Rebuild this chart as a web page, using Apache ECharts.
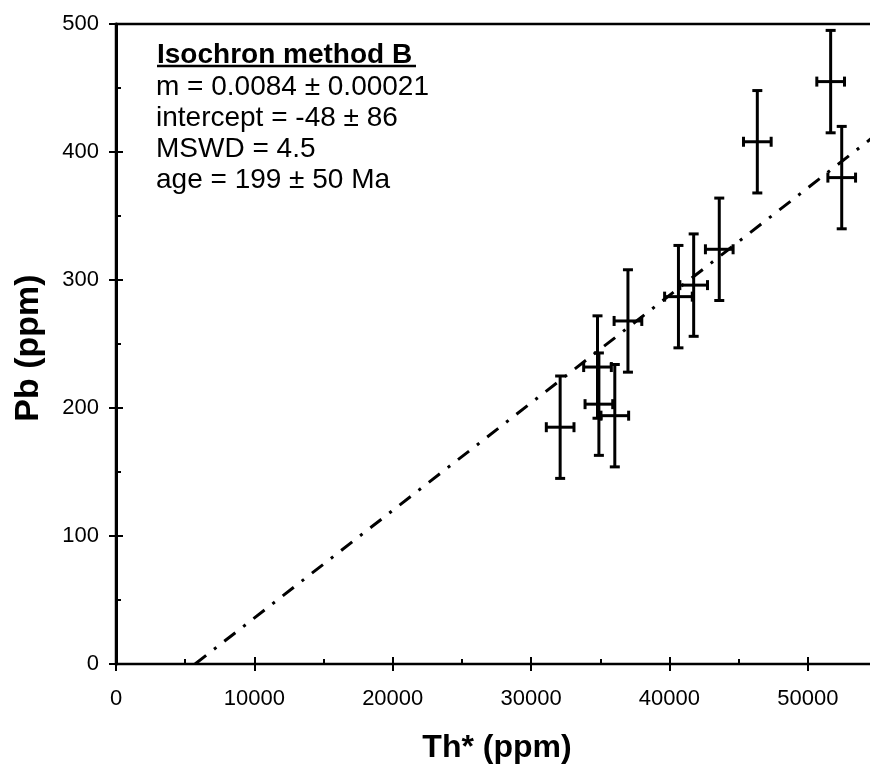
<!DOCTYPE html>
<html>
<head>
<meta charset="utf-8">
<title>Isochron method B</title>
<script src="https://cdn.jsdelivr.net/npm/echarts@6/dist/echarts.min.js"></script>
<style>
  html, body { margin: 0; padding: 0; background: #fff; }
  #chart { width: 870px; height: 768px; }
</style>
</head>
<body>
<div id="chart"></div>
<script>
// Th* and Pb concentrations (ppm) with 1-sigma uncertainties
const thStar = [32100, 34800, 34900, 36050, 37000, 40650, 41750, 43600, 46350, 51650, 52450];
const pb     = [185,   232,   203,   194,   268,   287,   296,   324,   408,   455,   380];
const thErr  = [1000,  1000,  1000,  1000,  1000,  1000,  1000,  1000,  1000,  1000,  1000];
const pbErr  = [40,    40,    40,    40,    40,    40,    40,    40,    40,    40,    40];

// Regression results
const slope = 0.0084;
const intercept = -48;
const fitEndX = 55000;

// Labelled ticks
const xTickLabels = [0, 10000, 20000, 30000, 40000, 50000];
const yTickLabels = [0, 100, 200, 300, 400, 500];

const statsTitle = 'Isochron method B';
const statsLines = [
  'm = 0.0084 \u00b1 0.00021',
  'intercept = -48 \u00b1 86',
  'MSWD = 4.5',
  'age = 199 \u00b1 50 Ma'
];

const points = thStar.map((x, i) => [x, pb[i], thErr[i], pbErr[i]]);
const fitStartX = -intercept / slope;
const fitLine = [
  [fitStartX, slope * fitStartX + intercept],
  [fitEndX, slope * fitEndX + intercept]
];

const FONT = '"Liberation Sans", Arial, sans-serif';
const chart = echarts.init(document.getElementById('chart'), null, { renderer: 'canvas' });

const xCommon = {
  type: 'value', min: 0, max: 55000, interval: 10000, position: 'bottom',
  splitLine: { show: false }
};
const yCommon = {
  type: 'value', min: 0, max: 500, interval: 100, position: 'left',
  splitLine: { show: false }
};
const labelFmt = list => v => (list.indexOf(v) >= 0 ? String(v) : '');

const statsGraphics = [{
  type: 'text', x: 157, y: 55,
  style: { text: statsTitle, font: 'bold 28px ' + FONT, fill: '#000', verticalAlign: 'middle', align: 'left' }
}, {
  type: 'line', shape: { x1: 157, y1: 66, x2: 416, y2: 66 },
  style: { stroke: '#000', lineWidth: 2.5 }
}].concat(statsLines.map((t, i) => ({
  type: 'text', x: 156, y: 87 + i * 31,
  style: { text: t, font: '28px ' + FONT, fill: '#000', verticalAlign: 'middle', align: 'left' }
})));

chart.setOption({
  backgroundColor: '#fff',
  animation: false,
  grid: {
    left: 116, top: 24, width: 761, height: 640,
    containLabel: false, outerBoundsMode: 'none',
    show: true, borderColor: '#000', borderWidth: 2.5, backgroundColor: 'transparent'
  },
  xAxis: [
    Object.assign({}, xCommon, {
      axisLine: { show: true, lineStyle: { color: '#000', width: 2 } },
      axisTick: { show: true, inside: false, length: 7, lineStyle: { color: '#000', width: 2 } },
      axisLabel: {
        show: true, margin: 24, color: '#000', fontSize: 22, fontFamily: FONT,
        showMaxLabel: false, formatter: labelFmt(xTickLabels)
      }
    }),
    Object.assign({}, xCommon, {
      axisLine: { show: false },
      axisTick: { show: true, inside: true, length: 7, lineStyle: { color: '#000', width: 2 } },
      minorTick: { show: true, splitNumber: 2, length: 5, lineStyle: { color: '#000', width: 2 } },
      axisLabel: { show: false }
    })
  ],
  yAxis: [
    Object.assign({}, yCommon, {
      axisLine: { show: true, lineStyle: { color: '#000', width: 3 } },
      axisTick: { show: true, inside: false, length: 7, lineStyle: { color: '#000', width: 2 } },
      axisLabel: {
        show: true, margin: 17, color: '#000', fontSize: 22, fontFamily: FONT,
        formatter: labelFmt(yTickLabels)
      }
    }),
    Object.assign({}, yCommon, {
      axisLine: { show: false },
      axisTick: { show: true, inside: true, length: 7, lineStyle: { color: '#000', width: 2 } },
      minorTick: { show: true, splitNumber: 2, length: 5, lineStyle: { color: '#000', width: 2 } },
      axisLabel: { show: false }
    })
  ],
  series: [{
    name: 'Isochron',
    type: 'line',
    data: fitLine,
    symbol: 'none',
    silent: true,
    lineStyle: { color: '#000', width: 3, type: [14, 10, 3, 10] },
    z: 2
  }, {
    name: 'Samples',
    type: 'custom',
    data: points,
    z: 3,
    renderItem: function (params, api) {
      const x = api.value(0), y = api.value(1), ex = api.value(2), ey = api.value(3);
      const top = api.coord([x, y + ey]);
      const bot = api.coord([x, y - ey]);
      const lft = api.coord([x - ex, y]);
      const rgt = api.coord([x + ex, y]);
      const cap = 5;
      const style = { stroke: '#000', lineWidth: 3 };
      const seg = (x1, y1, x2, y2) => ({ type: 'line', shape: { x1, y1, x2, y2 }, style });
      return {
        type: 'group',
        children: [
          seg(top[0], top[1], bot[0], bot[1]),
          seg(top[0] - cap, top[1], top[0] + cap, top[1]),
          seg(bot[0] - cap, bot[1], bot[0] + cap, bot[1]),
          seg(lft[0], lft[1], rgt[0], rgt[1]),
          seg(lft[0], lft[1] - cap, lft[0], lft[1] + cap),
          seg(rgt[0], rgt[1] - cap, rgt[0], rgt[1] + cap)
        ]
      };
    }
  }],
  graphic: statsGraphics.concat([{
    type: 'text', x: 497, y: 748,
    style: { text: 'Th* (ppm)', font: 'bold 32px ' + FONT, fill: '#000', align: 'center', verticalAlign: 'middle' }
  }, {
    type: 'text', x: 29, y: 348, rotation: Math.PI / 2,
    style: { text: 'Pb (ppm)', font: 'bold 34px ' + FONT, fill: '#000', align: 'center', verticalAlign: 'middle' }
  }])
});
</script>
</body>
</html>
